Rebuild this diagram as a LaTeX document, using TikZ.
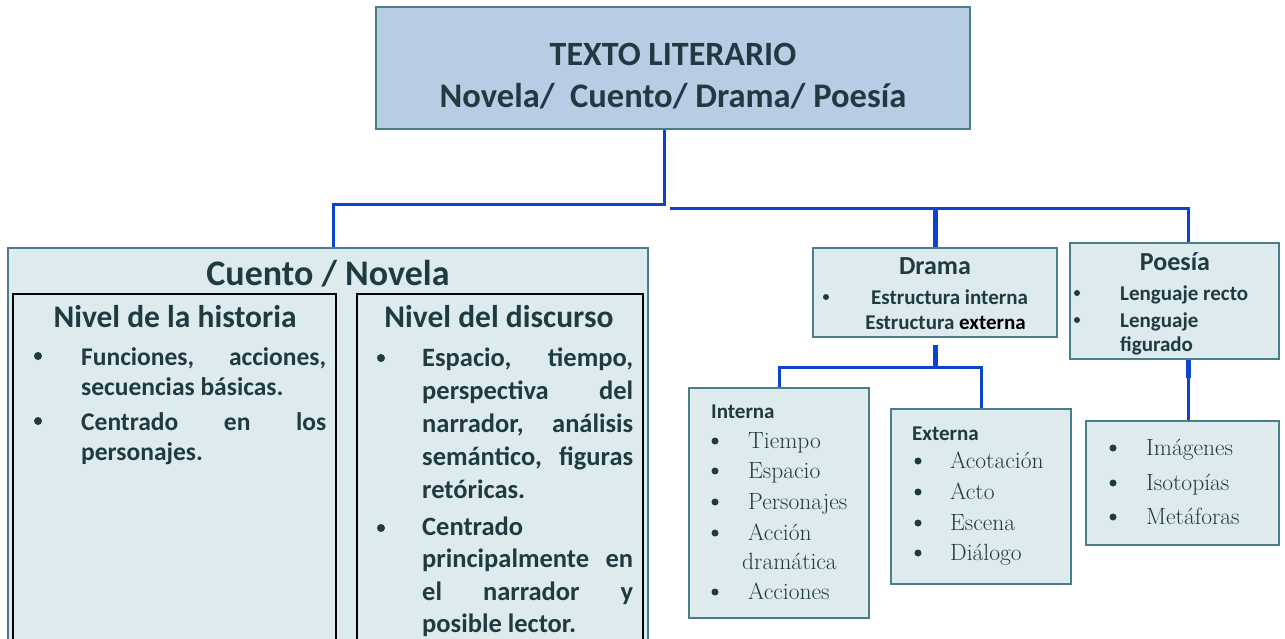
\documentclass[tikz,border=0pt]{standalone}
\usepackage{fontspec}
\newfontfamily\calibri{Carlito}
\definecolor{ink}{HTML}{1F3B42}
\definecolor{edge}{HTML}{4A7E88}
\definecolor{head}{HTML}{B8CCE4}
\definecolor{pale}{HTML}{DDEAEE}
\definecolor{wire}{HTML}{0B44CF}
\tikzset{
  box/.style={draw=edge, fill=pale, line width=1.6pt, inner sep=0pt},
  col/.style={draw=black, line width=1.8pt, inner sep=0pt},
  link/.style={draw=wire, line width=3pt},
  stub/.style={draw=wire, line width=5pt},
  dot/.style={circle, fill=ink, inner sep=0pt, minimum size=7pt},
  sans/.style={inner sep=0pt, text=ink, font=\calibri\bfseries\fontsize{#1}{#1}\selectfont},
  roman/.style={inner sep=0pt, text=ink, font=\fontsize{23.5}{23.5}\selectfont, anchor=base west},
  para/.style={inner sep=0pt, text=ink, anchor=base west, align=justify, text width=#1},
}
\begin{document}
\begin{tikzpicture}[x=1pt, y=-1pt]
    \useasboundingbox (0,0) rectangle (1285,638);
    \clip (0,0) rectangle (1285,638);
    % boxes
    \node[box, fill=head, minimum width=594, minimum height=122] (top) at (673,68) {};
    \node[box, minimum width=640, minimum height=412] (cuento) at (328,454) {};
    \node[col, minimum width=323, minimum height=366] (hist) at (174.5,477) {};
    \node[col, minimum width=286, minimum height=366] (disc) at (500,477) {};
    \node[box, minimum width=244, minimum height=89] (drama) at (935,292.5) {};
    \node[box, minimum width=209, minimum height=116] (poesia) at (1174.5,301) {};
    \node[box, minimum width=180, minimum height=230] (interna) at (779,503) {};
    \node[box, minimum width=180, minimum height=175] (externa) at (981,496.5) {};
    \node[box, minimum width=193, minimum height=124] (imag) at (1182.5,483) {};
    % connectors
    \coordinate (hubL) at (664,204);
    \coordinate (hubR) at (670,208);
    \coordinate (dhub) at (935,367);
    \draw[link] (top.south -| hubL) -- (hubL) -| ([xshift=5pt]cuento.north);
    \draw[link] (hubR) -| ([xshift=14pt]poesia.north);
    \draw[stub] (drama.north) -- (drama.north |- hubR);
    \draw[stub] ([yshift=-7pt]drama.south) -- (dhub);
    \draw[link] (interna.north) |- (dhub) -| (externa.north);
    \draw[link] ([xshift=13.5pt]poesia.south) -- ([xshift=5.5pt]imag.north);
    \draw[stub] ([xshift=13.5pt]poesia.south) -- ++(0,18);
    % title
    \node[sans=34, anchor=base] (t1) at (673,65) {TEXTO LITERARIO};
    \node[sans=34.5, anchor=base] (t2) at (673,107) {Novela/\ \ Cuento/ Drama/ Poesía};
    % cuento / novela
    \node[sans=36, anchor=base] (ctitle) at (328,285) {Cuento / Novela};
    \node[sans=31.5, anchor=base] (htitle) at (175,327) {Nivel de la historia};
    \node[sans=31.5, anchor=base] (dtitle) at (499,327) {Nivel del discurso};
    \node[dot, minimum size=8pt] (hb1) at (38,356) {};
    \node[dot, minimum size=8pt] (hb2) at (38,421) {};
    \node[para=245pt, font=\calibri\bfseries\fontsize{25.5}{30}\selectfont] (h1) at (81,365)
        {Funciones, acciones,\linebreak secuencias básicas.};
    \node[para=245pt, font=\calibri\bfseries\fontsize{25.5}{30}\selectfont] (h2) at (81,430)
        {Centrado en los\linebreak personajes.};
    \node[dot, minimum size=8pt] (db1) at (381,358) {};
    \node[dot, minimum size=8pt] (db2) at (381,528) {};
    \node[para=211pt, font=\calibri\bfseries\fontsize{26.5}{33}\selectfont] (d1) at (422,366)
        {Espacio, tiempo,\linebreak perspectiva del\linebreak narrador, análisis\linebreak semántico, figuras\linebreak retóricas.};
    \node[para=211pt, font=\calibri\bfseries\fontsize{26.5}{32.5}\selectfont] (d2) at (422,535)
        {Centrado\newline principalmente en\linebreak el narrador y\linebreak posible lector.};
    % drama
    \node[sans=26, anchor=base] (mtitle) at (935,274) {Drama};
    \node[dot, minimum size=6pt] (mb) at (826,297) {};
    \node[sans=21, anchor=base] (m1) at (949.5,304) {Estructura interna};
    \node[sans=21, anchor=base] (m2) at (945.5,329) {Estructura {\color{black}externa}};
    % poesia
    \node[sans=26, anchor=base] (ptitle) at (1175,270) {Poesía};
    \node[dot, minimum size=6pt] (pb1) at (1077,293) {};
    \node[dot, minimum size=6pt] (pb2) at (1077,320) {};
    \node[sans=21, anchor=base west] (p1) at (1120,300) {Lenguaje recto};
    \node[sans=21, anchor=base west] (p2) at (1120,327) {Lenguaje};
    \node[sans=21, anchor=base west] (p3) at (1120,351) {figurado};
    % interna
    \node[sans=21, anchor=base west] (ititle) at (711,418) {Interna};
    \foreach \y/\word [count=\k] in {448/Tiempo, 478/Espacio, 509/Personajes, 540/Acción, 599/Acciones} {
        \node[dot, minimum size=7pt] (ib\k) at (715,\y-7) {};
        \node[roman] (i\k) at (748,\y) {\word};
    }
    \node[roman] (i6) at (742,569) {dramática};
    % externa
    \node[sans=21, anchor=base west] (etitle) at (912,440) {Externa};
    \foreach \y/\word [count=\k] in {468/Acotación, 499/Acto, 530/Escena, 560/Diálogo} {
        \node[dot, minimum size=7pt] (eb\k) at (918,\y-7) {};
        \node[roman] (e\k) at (950,\y) {\word};
    }
    % imagenes
    \foreach \y/\word [count=\k] in {455/Imágenes, 490/Isotopías, 524/Metáforas} {
        \node[dot, minimum size=7pt] (gb\k) at (1113,\y-7) {};
        \node[roman] (g\k) at (1146,\y) {\word};
    }
\end{tikzpicture}
\end{document}
